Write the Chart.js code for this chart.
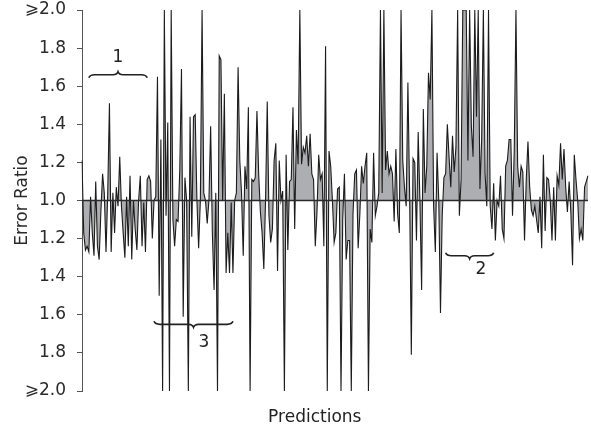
<!DOCTYPE html>
<html>
<head>
<meta charset="utf-8">
<script src="https://cdn.jsdelivr.net/npm/chart.js@4.4.1/dist/chart.umd.min.js"></script>
<style>
  html, body { margin: 0; background: #fff; }
</style>
</head>
<body>
<canvas id="chart" width="591" height="431"></canvas>
<script>
// ---------------- Data ----------------
// signed distance from 1.0 : + above the line, - below, +/-1 means ">= 2.0"
const ratios = [
  0.21, -0.17, -0.26, -0.24, -0.27, 0.02, -0.17, -0.29, 0.10, -0.24, -0.31, -0.06, 0.14, 0.04, -0.27, 0.04,
  0.51, -0.27, 0.04, -0.17, 0.07, -0.03, 0.23, -0.03, -0.17, -0.30, 0.02, -0.24, 0.13, -0.31, 0.0, -0.15,
  -0.26, 0.0, 0.13, -0.24, -0.01, -0.27, 0.11, 0.13, 0.10, -0.20, 0.0, 0.02, 0.65, -0.5, 0.32, -1.0, 1.0,
  -0.08, 0.41,
  -1.0, 1.0, -0.10, -0.24, -0.10, -0.11, 0.16, 0.69, -0.61, 0.12, 0.0, -1.0, 0.44, -0.19, 0.44, 0.45, 0.0,
  -0.25, 0.0, 1.0, 0.04, 0.0, -0.12, 0.0, 0.39, -0.17, -0.47, 0.04, -1.0, 0.76, 0.74, 0.0, 0.56, -0.38,
  -0.17, -0.38, -0.01, -0.38, 0.0, 0.04, 0.70, 0.21, 0.04, -0.29, 0.18, 0.06, 0.49, -1.0, 0.11,
  0.10, 0.12, 0.47, 0.14, -0.06, -0.17, -0.36, 0.0, 0.52, -0.08, -0.22, -0.15, 0.21, 0.30, -0.37, 0.21,
  0.0, 0.05, -1.0, 0.24, -0.26, 0.10, 0.11, 0.49, -0.15, 0.37, 0.19, 1.0, 0.19, 0.28, 0.25, 0.34, 0.18,
  0.35, 0.14, 0.11, -0.24, -0.06, 0.24, 0.11, 0.14, -0.24, 0.81, -1.0, 0.26, 0.18, 0.0, -0.22, -0.17, 0.06,
  0.07, -1.0, -0.10, 0.14, -0.31, -0.21, -0.21, -1.0, -0.07, 0.14, 0.16, -0.25, -0.07, 0.18, 0.09, 0.18,
  0.25, -1.0, -0.15, -0.22, 0.25, -0.08, -0.03, 0.04, 1.0, 0.04, 1.0, 0.16, 0.26, 0.14, 0.18, 0.14, -0.11,
  0.27, -0.07, -0.17, 1.0, 0.21, 0.07, -0.03, 0.62, 0.04, -0.81, 0.22, 0.20, -0.21, 0.36, 0.0, -0.47, 0.48,
  0.04, 0.18, 0.67, 0.53, 1.0, -0.03, -0.27, 0.25, 0.0, -0.59, -0.08, 0.12, 0.14, 0.40, 0.23, 0.07, 0.34,
  0.15, 0.28, 1.0, -0.08, 0.11, 1.0, 1.0, 1.0, 0.21, 1.0, 0.39, 0.23, 1.0, 0.44, 1.0, 0.06, 0.32, 1.0,
  0.14, -0.03, 1.0, -0.03, -0.15, 0.09, -0.21, 0.0, -0.03, 0.13, -0.15, -0.20, 0.18, 0.21, 0.32,
  0.32, -0.08, 0.26, 1.0, 0.18, 0.07, 0.18, 0.15, -0.21, 0.11, 0.31, 0.07, -0.05, -0.08, -0.03, -0.10,
  -0.17, 0.02, -0.25, 0.24, -0.16, 0.12, 0.11, 0.0, -0.21, 0.07, -0.21, 0.13, 0.08, 0.30, 0.11, 0.27,
  0.07, -0.06, 0.10, -0.06, -0.34, 0.24, 0.11, 0.0, -0.20, -0.15, -0.21, 0.07, 0.10, 0.13
];
const predictions = ratios.map((_, i) => i + 1);

// y ticks: -1 .. 1 step 0.2, shown as ratio distance from 1.0
const tickStep = 0.2;

// braces (index range on the x axis, level on the y axis)
const braceText = ["1", "2", "3"];
const braceFrom = [4, 212, 42];
const braceTo = [38, 240, 88];
const braceLevel = [0.66, -0.29, -0.65];
const braceDir = [-1, 1, 1];          // -1: point up, 1: point down
const braceTextAt = [21, 232.5, 71];
const braceTextLevel = [0.75, -0.365, -0.745];

const FONT = "'DejaVu Sans', sans-serif";

// ---------------- Helpers ----------------
function drawBrace(ctx, x0, x1, yb, dir) {
  const m = (x0 + x1) / 2;
  const h = 3;
  ctx.beginPath();
  ctx.moveTo(x0, yb - dir * h);
  ctx.quadraticCurveTo(x0 + 1, yb, x0 + 6, yb);
  ctx.lineTo(m - 5, yb);
  ctx.quadraticCurveTo(m - 1, yb, m, yb + dir * h);
  ctx.quadraticCurveTo(m + 1, yb, m + 5, yb);
  ctx.lineTo(x1 - 6, yb);
  ctx.quadraticCurveTo(x1 - 1, yb, x1, yb - dir * h);
  ctx.stroke();
}

const overlay = {
  id: "overlay",
  afterDatasetsDraw(chart) {
    const { ctx, chartArea, scales: { x, y } } = chart;
    ctx.save();

    // baseline at 1.0
    const y0 = y.getPixelForValue(0);
    ctx.strokeStyle = "#2a2a2a";
    ctx.lineWidth = 1.4;
    ctx.beginPath();
    ctx.moveTo(chartArea.left, y0);
    ctx.lineTo(chartArea.right, y0);
    ctx.stroke();

    // braces + numbers
    ctx.strokeStyle = "#222";
    ctx.lineWidth = 1.6;
    ctx.fillStyle = "#222";
    ctx.font = `17px ${FONT}`;
    ctx.textAlign = "center";
    ctx.textBaseline = "middle";
    braceText.forEach((t, i) => {
      drawBrace(ctx,
        x.getPixelForValue(braceFrom[i]),
        x.getPixelForValue(braceTo[i]),
        y.getPixelForValue(braceLevel[i]),
        braceDir[i]);
      ctx.fillText(t, x.getPixelForValue(braceTextAt[i]), y.getPixelForValue(braceTextLevel[i]));
    });

    // x title
    ctx.fillText("Predictions", chartArea.left + (chartArea.right - chartArea.left) * 0.46, chartArea.bottom + 27);
    ctx.restore();
  }
};

// ---------------- Chart ----------------
new Chart(document.getElementById("chart"), {
  type: "line",
  data: {
    labels: predictions,
    datasets: [{
      data: ratios,
      borderColor: "#1c1c1c",
      borderWidth: 1.1,
      backgroundColor: "#adaeb2",
      fill: "origin",
      pointRadius: 0,
      tension: 0,
    }],
  },
  options: {
    responsive: false,
    animation: false,
    layout: { padding: { top: 10, right: 3, bottom: 0, left: 0 } },
    plugins: { legend: { display: false }, tooltip: { enabled: false } },
    scales: {
      x: {
        type: "category",
        offset: false,
        grid: { display: false },
        border: { display: false },
        ticks: { display: false },
        afterFit: s => { s.height = 40; },
      },
      y: {
        min: -1,
        max: 1,
        ticks: {
          stepSize: tickStep,
          padding: 11,
          color: "#2a2a2a",
          font: { family: FONT, size: 17 },
          callback: v => Math.abs(v) > 0.99 ? "\u2A7E2.0" : (1 + Math.abs(v)).toFixed(1),
        },
        grid: { drawOnChartArea: false, drawTicks: true, tickLength: 5, color: "#555" },
        border: { color: "#555", width: 1 },
        title: {
          display: true,
          text: "Error Ratio",
          color: "#2a2a2a",
          font: { family: FONT, size: 17 },
          padding: { top: 12, bottom: 0 },
        },
        afterFit: s => { s.width = 82; s.paddingTop = 0; s.paddingBottom = 0; },
      },
    },
  },
  plugins: [overlay],
});
</script>
</body>
</html>
